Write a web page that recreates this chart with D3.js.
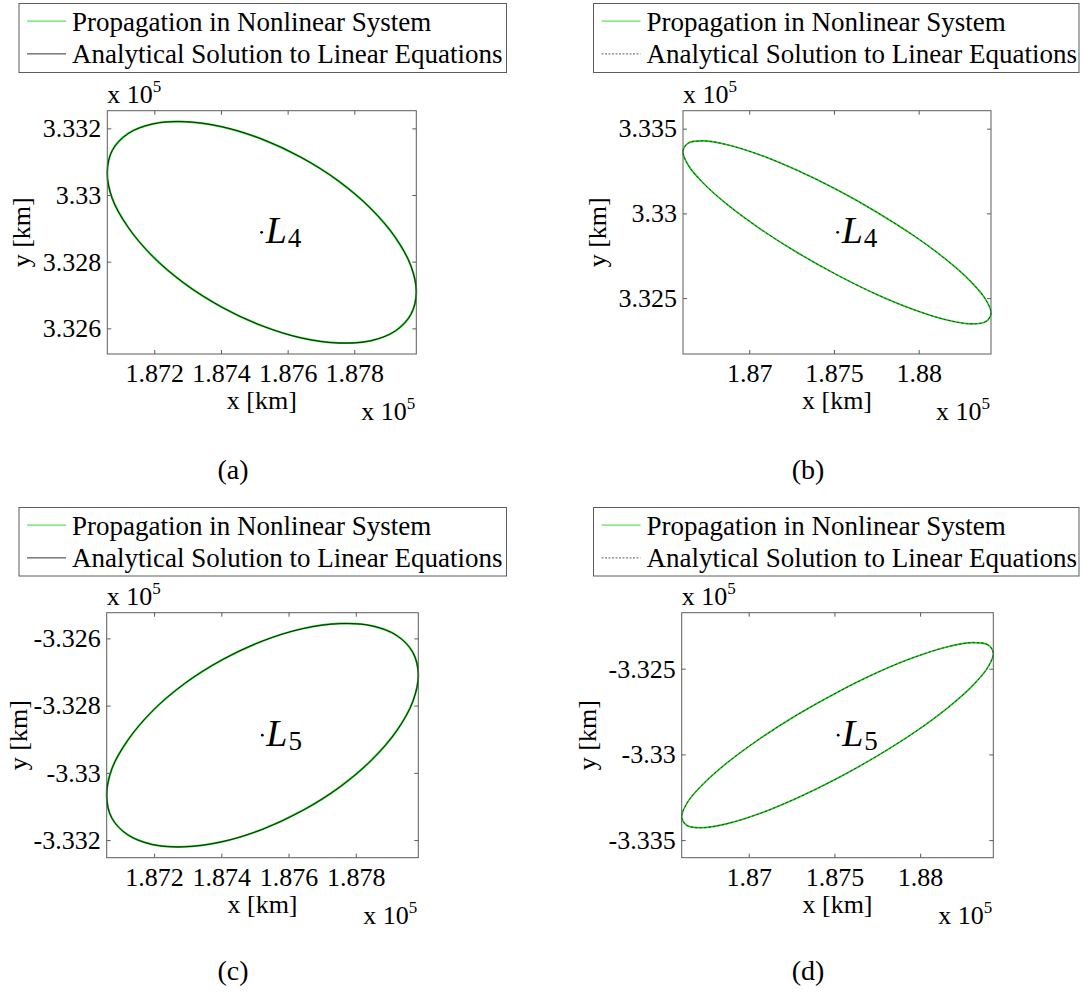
<!DOCTYPE html>
<html>
<head>
<meta charset="utf-8">
<script src="https://cdn.jsdelivr.net/npm/d3@7"></script>
<style>
  html, body { margin: 0; padding: 0; background: #fff; }
  svg { display: block; }
  text { font-family: "Liberation Serif", "Times New Roman", serif; fill: #000; }
</style>
</head>
<body>
<svg id="fig" width="1083" height="993"></svg>
<script>
// ---------------------------------------------------------------------------
// Data: orbits about the triangular Lagrange points (km, Earth–Moon rotating frame)
// ---------------------------------------------------------------------------
const legendLabels = ["Propagation in Nonlinear System", "Analytical Solution to Linear Equations"];
const captions = ["(a)", "(b)", "(c)", "(d)"];

// Lagrange point locations [x, y] in km
const pointL4 = [187522, 332888];
const pointL5 = [187522, -332888];

// Orbit around L4, wide ellipse
const orbitL4WideX = [187986, 187970, 187923, 187850, 187754, 187642, 187522, 187402, 187290, 187194, 187121, 187074,
                      187059, 187074, 187121, 187194, 187290, 187402, 187522, 187642, 187754, 187850, 187923, 187970];
const orbitL4WideY = [332708, 332642, 332592, 332563, 332556, 332571, 332608, 332664, 332735, 332817, 332904, 332989,
                      333068, 333134, 333184, 333213, 333220, 333205, 333168, 333112, 333041, 332959, 332873, 332787];

// Orbit around L4, narrow ellipse
const orbitL4NarrowX = [188427, 188396, 188305, 188161, 187973, 187753, 187518, 187283, 187064, 186875, 186731, 186640,
                        186609, 186640, 186731, 186875, 187064, 187283, 187518, 187753, 187973, 188161, 188305, 188396];
const orbitL4NarrowY = [332410, 332361, 332348, 332372, 332431, 332521, 332637, 332769, 332909, 333048, 333176, 333284,
                        333366, 333415, 333428, 333404, 333345, 333254, 333139, 333007, 332867, 332728, 332600, 332491];

// Orbit around L5, wide ellipse
const orbitL5WideX = [187986, 187970, 187923, 187850, 187754, 187642, 187522, 187402, 187290, 187194, 187121, 187074,
                      187059, 187074, 187121, 187194, 187290, 187402, 187522, 187642, 187754, 187850, 187923, 187970];
const orbitL5WideY = [-332708, -332642, -332592, -332563, -332556, -332571, -332608, -332664, -332735, -332817, -332904, -332989,
                      -333068, -333134, -333184, -333213, -333220, -333205, -333168, -333112, -333041, -332959, -332873, -332787];

// Orbit around L5, narrow ellipse
const orbitL5NarrowX = [188427, 188396, 188305, 188161, 187973, 187753, 187518, 187283, 187064, 186875, 186731, 186640,
                        186609, 186640, 186731, 186875, 187064, 187283, 187518, 187753, 187973, 188161, 188305, 188396];
const orbitL5NarrowY = [-332410, -332361, -332348, -332372, -332431, -332521, -332637, -332769, -332909, -333048, -333176, -333284,
                        -333366, -333415, -333428, -333404, -333345, -333254, -333139, -333007, -332867, -332728, -332600, -332491];

// Tick values (km) and their labels (units of 10^5 km)
const xTicksWide = [187200, 187400, 187600, 187800];
const xTickLabelsWide = ["1.872", "1.874", "1.876", "1.878"];
const xTicksNarrow = [187000, 187500, 188000];
const xTickLabelsNarrow = ["1.87", "1.875", "1.88"];
const yTicksL4Wide = [332600, 332800, 333000, 333200];
const yTickLabelsL4Wide = ["3.326", "3.328", "3.33", "3.332"];
const yTicksL4Narrow = [332500, 333000, 333500];
const yTickLabelsL4Narrow = ["3.325", "3.33", "3.335"];
const yTicksL5Wide = [-333200, -333000, -332800, -332600];
const yTickLabelsL5Wide = ["-3.332", "-3.33", "-3.328", "-3.326"];
const yTicksL5Narrow = [-333500, -333000, -332500];
const yTickLabelsL5Narrow = ["-3.335", "-3.33", "-3.325"];

// ---------------------------------------------------------------------------
// Layout
// ---------------------------------------------------------------------------
const panels = [
  { box: [107.3, 110.7, 416.3, 354.0], xs: orbitL4WideX, ys: orbitL4WideY, xt: xTicksWide, xl: xTickLabelsWide,
    yt: yTicksL4Wide, yl: yTickLabelsL4Wide, pt: pointL4, sub: "4", dashed: false,
    legend: [19, 3.5, 506.5, 72.5], cap: captions[0], capXY: [233, 479] },
  { box: [683.0, 110.7, 991.0, 354.0], xs: orbitL4NarrowX, ys: orbitL4NarrowY, xt: xTicksNarrow, xl: xTickLabelsNarrow,
    yt: yTicksL4Narrow, yl: yTickLabelsL4Narrow, pt: pointL4, sub: "4", dashed: true,
    legend: [593.5, 3.5, 1079, 72.5], cap: captions[1], capXY: [808, 479] },
  { box: [106.7, 612.7, 418.3, 857.7], xs: orbitL5WideX, ys: orbitL5WideY, xt: xTicksWide, xl: xTickLabelsWide,
    yt: yTicksL5Wide, yl: yTickLabelsL5Wide, pt: pointL5, sub: "5", dashed: false,
    legend: [19, 507.5, 506.5, 576], cap: captions[2], capXY: [233, 980] },
  { box: [681.7, 612.7, 993.3, 857.7], xs: orbitL5NarrowX, ys: orbitL5NarrowY, xt: xTicksNarrow, xl: xTickLabelsNarrow,
    yt: yTicksL5Narrow, yl: yTickLabelsL5Narrow, pt: pointL5, sub: "5", dashed: true,
    legend: [593.5, 507.5, 1079, 576], cap: captions[3], capXY: [808, 980] }
];

const GREEN = "#1fc21f";
const AXIS = "#5c5c5c";
const TICK_FS = 26;
const svg = d3.select("#fig");

function drawPanel(p) {
  const [L, T, R, B] = p.box;
  const g = svg.append("g");

  // Equal data aspect, tight in x
  const xExt = d3.extent(p.xs);
  const kmPerPx = (xExt[1] - xExt[0]) / (R - L);
  const yExt = d3.extent(p.ys);
  const yMid = (yExt[0] + yExt[1]) / 2;
  const yHalf = kmPerPx * (B - T) / 2;
  const x = d3.scaleLinear().domain(xExt).range([L, R]);
  const y = d3.scaleLinear().domain([yMid - yHalf, yMid + yHalf]).range([B, T]);

  const pts = p.xs.map((v, i) => [v, p.ys[i]]);
  const line = d3.line().x(d => x(d[0])).y(d => y(d[1])).curve(d3.curveCatmullRomClosed.alpha(0.5));

  // Nonlinear propagation
  g.append("path").attr("d", line(pts)).attr("fill", "none")
    .attr("stroke", GREEN).attr("stroke-width", p.dashed ? 1.6 : 2.0);
  // Linear analytical solution (coincides with the nonlinear trace)
  g.append("path").attr("d", line(pts)).attr("fill", "none")
    .attr("stroke", "#000").attr("stroke-width", p.dashed ? 0.8 : 0.9)
    .attr("stroke-opacity", p.dashed ? 0.7 : 0.85)
    .attr("stroke-dasharray", p.dashed ? "2.5,2" : null);

  // Axes with inward ticks on all four sides
  const tick = 4;
  g.append("g").attr("transform", `translate(0,${B})`)
    .call(d3.axisBottom(x).tickValues(p.xt).tickFormat((d, i) => p.xl[i]).tickSizeInner(-tick).tickSizeOuter(0).tickPadding(10));
  const ay = g.append("g").attr("transform", `translate(${L},0)`)
    .call(d3.axisLeft(y).tickValues(p.yt).tickFormat((d, i) => p.yl[i]).tickSizeInner(-tick).tickSizeOuter(0).tickPadding(6));
  g.append("g").attr("transform", `translate(0,${T})`)
    .call(d3.axisTop(x).tickValues(p.xt).tickFormat("").tickSizeInner(-tick).tickSizeOuter(0));
  g.append("g").attr("transform", `translate(${R},0)`)
    .call(d3.axisRight(y).tickValues(p.yt).tickFormat("").tickSizeInner(-tick).tickSizeOuter(0));

  g.selectAll(".domain").remove();
  g.selectAll(".tick line").attr("stroke", AXIS).attr("stroke-width", 1);
  g.selectAll(".tick text").style("font-size", TICK_FS + "px")
    .style("font-family", '"Liberation Serif", "Times New Roman", serif').attr("fill", "#000");

  g.append("rect").attr("x", L).attr("y", T).attr("width", R - L).attr("height", B - T)
    .attr("fill", "none").attr("stroke", AXIS).attr("stroke-width", 1);

  // Axis titles
  g.append("text").attr("x", (L + R) / 2).attr("y", B + 55).attr("text-anchor", "middle")
    .style("font-size", "26px").text("x [km]");
  const tickLeft = L + ay.node().getBBox().x;   // bbox is in the axis group's own frame
  const yLabelX = Math.max(tickLeft - 13, 27);
  g.append("text").attr("transform", `translate(${yLabelX},${(T + B) / 2}) rotate(-90)`)
    .attr("text-anchor", "middle").style("font-size", "26px").text("y [km]");

  // Exponent annotations
  const expLabel = (px, py, anchor) => {
    const t = g.append("text").attr("x", px).attr("y", py).attr("text-anchor", anchor).style("font-size", "26px");
    t.append("tspan").text("x 10");
    t.append("tspan").attr("dy", -11).style("font-size", "17px").text("5");
  };
  expLabel(L, T - 7.5, "start");
  expLabel(R - 1, B + 66, "end");

  // Lagrange point marker and label
  const cx = x(p.pt[0]), cy = y(p.pt[1]);
  g.append("circle").attr("cx", cx).attr("cy", cy).attr("r", 1.4).attr("fill", "#000");
  const lt = g.append("text").attr("x", cx + 4).attr("y", cy + 11).style("font-size", "38px");
  lt.append("tspan").style("font-style", "italic").text("L");
  lt.append("tspan").attr("dx", 1).attr("dy", 4).style("font-size", "27px").text(p.sub);

  // Legend
  const [lx0, ly0, lx1, ly1] = p.legend;
  const lg = svg.append("g");
  lg.append("rect").attr("x", lx0).attr("y", ly0).attr("width", lx1 - lx0).attr("height", ly1 - ly0)
    .attr("fill", "#fff").attr("stroke", AXIS).attr("stroke-width", 1);
  const rows = [ly0 + 17.7, ly0 + 50.4];
  lg.append("line").attr("x1", lx0 + 8).attr("x2", lx0 + 47).attr("y1", rows[0]).attr("y2", rows[0])
    .attr("stroke", "#5fe05f").attr("stroke-width", 1.2);
  lg.append("line").attr("x1", lx0 + 8).attr("x2", lx0 + 47).attr("y1", rows[1]).attr("y2", rows[1])
    .attr("stroke", "#333").attr("stroke-width", p.dashed ? 0.8 : 1)
    .attr("stroke-dasharray", p.dashed ? "2,1.5" : null);
  legendLabels.forEach((s, i) => {
    lg.append("text").attr("x", lx0 + 53).attr("y", rows[i] + 9.5).style("font-size", "27px").text(s);
  });

  // Sub-figure caption
  svg.append("text").attr("x", p.capXY[0]).attr("y", p.capXY[1]).attr("text-anchor", "middle")
    .style("font-size", "28px").text(p.cap);
}

panels.forEach(drawPanel);
</script>
</body>
</html>
